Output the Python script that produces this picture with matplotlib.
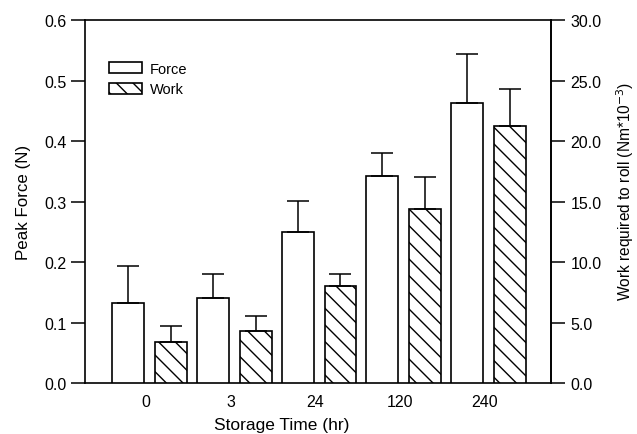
import numpy as np
import matplotlib.pyplot as plt

plt.rcParams['font.family'] = ['Liberation Sans', 'DejaVu Sans']
plt.rcParams['hatch.linewidth'] = 1.0

times = ['0', '3', '24', '120', '240']
force = [0.132, 0.141, 0.250, 0.342, 0.463]
force_sd = [0.061, 0.039, 0.051, 0.039, 0.080]
work = [3.38, 4.34, 8.0, 14.4, 21.24]
work_sd = [1.34, 1.16, 1.0, 2.64, 3.06]

x = np.arange(len(times))
w = 0.376
off = 0.253

fig = plt.figure(figsize=(6.37, 4.35), dpi=100)
ax = fig.add_axes([0.1334, 0.1172, 0.7316, 0.8345])
ax2 = ax.twinx()

ax.bar(x - off, force, w, color='white', edgecolor='black', linewidth=1.2,
       yerr=[np.zeros(len(force)), force_sd], capsize=8,
       error_kw=dict(elinewidth=1.1, capthick=1.1, ecolor='black'), label='Force', zorder=3)
ax2.bar(x + off, work, w, color='white', edgecolor='black', linewidth=1.2, hatch='\\\\',
        yerr=[np.zeros(len(work)), work_sd], capsize=8,
        error_kw=dict(elinewidth=1.1, capthick=1.1, ecolor='black'), label='Work', zorder=3)

ax.set_xlim(-0.763, 4.739)
ax.set_ylim(0, 0.6)
ax2.set_ylim(0, 30)
ax.set_yticks(np.arange(0, 0.61, 0.1))
ax.set_yticklabels([f'{v:.1f}' for v in np.arange(0, 0.61, 0.1)])
ax2.set_yticks(np.arange(0, 30.1, 5))
ax2.set_yticklabels([f'{v:.1f}' for v in np.arange(0, 30.1, 5)])
ax.set_xticks(x - 0.04)
ax.set_xticklabels(times)

ax.tick_params(axis='y', direction='out', length=10, width=1.1, labelsize=11.5, pad=3)
ax2.tick_params(axis='y', direction='out', length=10, width=1.1, labelsize=11.5, pad=4)
ax.tick_params(axis='x', length=0, labelsize=11.5, pad=8)

for a in (ax, ax2):
    for s in a.spines.values():
        s.set_linewidth(1.2)
ax2.spines['left'].set_visible(False)
ax2.spines['bottom'].set_visible(False)
ax2.spines['top'].set_visible(False)

ax.set_ylabel('Peak Force (N)', fontsize=12.2, labelpad=10)
ax2.set_ylabel('Work required to roll (Nm*10$^{-3}$)', fontsize=11.2)
ax2.yaxis.set_label_coords(1.136, 0.53)
ax.set_xlabel('Storage Time (hr)', fontsize=12.5)
ax.xaxis.set_label_coords(0.423, -0.093)

h1, l1 = ax.get_legend_handles_labels()
h2, l2 = ax2.get_legend_handles_labels()
leg = ax2.legend([h1[0], h2[0]], [l1[0], l2[0]], loc='upper left', bbox_to_anchor=(0.035, 0.905),
                 frameon=False, fontsize=10.5, handlelength=2.3, handleheight=0.75,
                 borderpad=0, labelspacing=0.45, handletextpad=0.55)

fig.savefig('out.png', dpi=100)
